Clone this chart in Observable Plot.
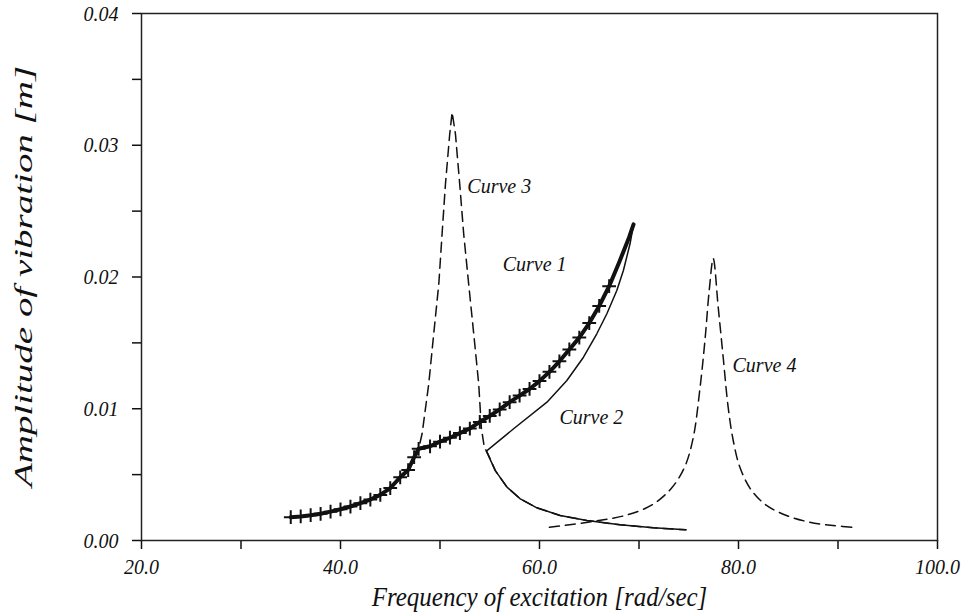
<!DOCTYPE html>
<html><head><meta charset="utf-8">
<script src="https://cdn.jsdelivr.net/npm/d3@7"></script>
<script src="https://cdn.jsdelivr.net/npm/@observablehq/plot@0.6"></script>
<style>body{margin:0;background:#fff}#chart{width:963px;height:614px}</style>
</head><body><div id="chart"></div>
<script>
// Curve 1 (nonlinear response, thick line with + markers)
const curve1X = [35,36,37,38,39,40,41,42,43,44,45,46,46.8,47.4,47.85,49,50,51,52,53,54,55,56,57,58,59,60,61,62,63,64,65,66,67,68,69,69.45];
const curve1Y = [0.00177,0.00183,0.00192,0.00203,0.00219,0.00237,0.00258,0.00283,0.00311,0.00346,0.00398,0.0048,0.00535,0.00632,0.00696,0.00715,0.0075,0.0078,0.00815,0.0085,0.009,0.00945,0.00995,0.0105,0.011,0.0115,0.0121,0.0128,0.0136,0.0145,0.0154,0.0165,0.0178,0.0193,0.0211,0.023,0.024];
const curve1MarkerMaxX = 67;
// Curve 2 (thin solid: upper return branch, cusp, lower branch)
const curve2X = [69.45,69.1,68.43,67.77,66.77,65.76,64.42,62.75,60.75,57.4,54.66,55.56,56.73,58.07,59.74,62.08,64.76,68.1,71.44,74.72];
const curve2Y = [0.024,0.02252,0.02049,0.01898,0.01721,0.01569,0.01391,0.01214,0.0105,0.00848,0.00678,0.0053,0.00405,0.00316,0.00248,0.0019,0.00152,0.00119,0.00096,0.00081];
// Curve 3 (dashed, linear resonance near 51 rad/s)
const curve3X = [35,36,37,38,39,40,41,42,43,44,45,46,46.8,47.4,47.85,48.2,48.87,49.37,49.88,50.21,50.55,50.98,51.22,51.55,51.98,52.38,52.88,53.39,53.89,54.16,54.45,54.8,55.56,56.73,58.07,59.74,62.08,64.76,68.1,71.44,74.72];
const curve3Y = [0.00177,0.00183,0.00192,0.00203,0.00219,0.00237,0.00258,0.00283,0.00311,0.00346,0.00398,0.0048,0.00535,0.00632,0.00696,0.0081,0.01189,0.01569,0.01948,0.02328,0.02707,0.03087,0.0325,0.03087,0.02707,0.02328,0.01948,0.01569,0.01189,0.0085,0.0071,0.0066,0.0053,0.00405,0.00316,0.00248,0.0019,0.00152,0.00119,0.00096,0.00081];
// Curve 4 (dashed, linear resonance near 77 rad/s)
const curve4X = [61.0,65.2,68.6,71.3,73.3,74.6,75.45,76.12,76.63,77.06,77.46,77.96,78.46,78.96,79.47,80.14,81.31,82.82,84.82,87.16,89.5,91.84];
const curve4Y = [0.001,0.00143,0.0019,0.0027,0.004,0.0056,0.0078,0.0115,0.0152,0.019,0.0214,0.01771,0.01391,0.01012,0.00759,0.00556,0.0038,0.00266,0.0019,0.00139,0.00114,0.00098];

const xTicks = [20,30,40,50,60,70,80,90,100];
const xTickLabels = [20,40,60,80,100];
const yTicks = [0,0.005,0.01,0.015,0.02,0.025,0.03,0.035,0.04];
const yTickLabels = [0,0.01,0.02,0.03,0.04];
const curveLabels = ["Curve 1","Curve 2","Curve 3","Curve 4"];
const curveLabelX = [56.3,62.0,52.75,79.4];
const curveLabelY = [0.0210,0.0094,0.0269,0.0133];

const zip = (xs, ys) => xs.map((x, i) => ({x, y: ys[i]}));
const c1 = zip(curve1X, curve1Y);
const c1Markers = c1.filter(d => d.x <= curve1MarkerMaxX);
const c2 = zip(curve2X, curve2Y);
const c3 = zip(curve3X, curve3Y);
const c4 = zip(curve4X, curve4Y);
const labels = curveLabels.map((t, i) => ({t, x: curveLabelX[i], y: curveLabelY[i]}));
const has = (arr, d) => arr.some(v => Math.abs(v - d) < 1e-9);

const chart = Plot.plot({
  width: 963, height: 614,
  marginLeft: 141, marginRight: 26, marginTop: 13, marginBottom: 74,
  style: {fontFamily: "'Liberation Serif','Times New Roman',serif", fontStyle: "italic", background: "white", color: "#111"},
  x: {domain: [20, 100]},
  y: {domain: [0, 0.04]},
  marks: [
    Plot.axisX({ticks: xTicks, tickSize: 9, tickPadding: 10, strokeWidth: 1.5, fontSize: 20,
      tickFormat: d => has(xTickLabels, d) ? d.toFixed(1) : "",
      label: "Frequency of excitation [rad/sec]", labelAnchor: "center", labelArrow: "none", labelOffset: 65}),
    Plot.axisY({ticks: yTicks, tickSize: 9, tickPadding: 14, strokeWidth: 1.5, fontSize: 20,
      tickFormat: d => has(yTickLabels, d) ? d.toFixed(2) : "",
      label: "Amplitude of vibration [m]", labelAnchor: "center", labelArrow: "none", labelOffset: 128}),
    Plot.line(c4, {x: "x", y: "y", stroke: "#111", strokeWidth: 1.5, strokeDasharray: "10,6", curve: "catmull-rom"}),
    Plot.line(c3, {x: "x", y: "y", stroke: "#111", strokeWidth: 1.5, strokeDasharray: "10,6", curve: "linear"}),
    Plot.line(c2, {x: "x", y: "y", stroke: "#111", strokeWidth: 1.5, curve: "linear"}),
    Plot.line(c1, {x: "x", y: "y", stroke: "#111", strokeWidth: 4, curve: "linear"}),
    Plot.dot(c1Markers, {x: "x", y: "y", symbol: "plus", r: 4.5, stroke: "#111", strokeWidth: 2}),
    Plot.text(labels, {x: "x", y: "y", text: "t", textAnchor: "start", fontSize: 20, fill: "#111"}),
    Plot.frame({stroke: "#222", strokeWidth: 1.5})
  ]
});
const sel = d3.select(chart);
sel.selectAll('[aria-label="x-axis label"]').attr("font-size", 25).selectAll("text").attr("font-size", 25);
sel.selectAll('[aria-label="y-axis label"]').attr("font-size", 26).selectAll("text").attr("font-size", 26);
document.getElementById("chart").appendChild(chart);
// emulate the reference's tall, narrow lettering: stretch text along the screen vertical
sel.selectAll("text").each(function () {
  const t = this.getAttribute("transform") || "";
  const b = this.getBBox();
  if (!b.width) return;
  const inY = this.closest('[aria-label="y-axis label"]');
  const inX = this.closest('[aria-label="x-axis label"]');
  if (/rotate\(/.test(t)) {
    const cx = b.x + b.width / 2, s = inY ? 1.5 : 1.1;
    this.setAttribute("transform", `${t} translate(${cx},0) scale(${s},1) translate(${-cx},0)`);
  } else {
    const cy = b.y + b.height / 2, s = inX ? 1.05 : 1.1;
    this.setAttribute("transform", `${t} translate(0,${cy}) scale(1,${s}) translate(0,${-cy})`);
  }
});
</script>
</body></html>
